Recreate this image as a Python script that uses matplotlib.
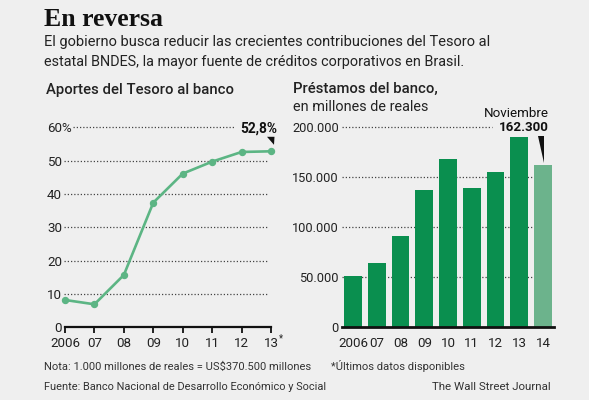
import matplotlib
matplotlib.use('Agg')
import matplotlib.pyplot as plt
from matplotlib import font_manager
from matplotlib.patches import Polygon
import matplotlib.transforms as mtransforms

# ---------------- data ----------------
years_left = ['2006', '07', '08', '09', '10', '11', '12', '13']
aportes = [8.2, 6.9, 15.7, 37.4, 46.1, 49.7, 52.6, 52.8]
left_ticks = [0, 10, 20, 30, 40, 50, 60]

years_right = ['2006', '07', '08', '09', '10', '11', '12', '13', '14']
prestamos = [51600, 64200, 91800, 137100, 168000, 139400, 155700, 190400, 162300]
right_ticks = [0, 50000, 100000, 150000, 200000]
right_tick_labels = ['0', '50.000', '100.000', '150.000', '200.000']

# ---------------- style ----------------
BG = '#efefef'
TXT = '#222222'
LINE = '#5cb584'
BAR = '#0a8f4f'
BAR_LAST = '#6cb38c'
GRID = '#444444'

names = {f.name for f in font_manager.fontManager.ttflist}
def pick(*cands):
    for c in cands:
        if c in names:
            return c
    return 'DejaVu Sans'
SANS = pick('Roboto', 'Open Sans', 'Lato', 'DejaVu Sans')
SERIF = pick('Liberation Serif', 'DejaVu Serif')

W, H = 589, 400
fig = plt.figure(figsize=(W / 100, H / 100), dpi=100)
fig.patch.set_facecolor(BG)
renderer = fig.canvas.get_renderer()

def ftext(x, y, s, width=None, size=10, ha='left', va='baseline', family=SANS, **kw):
    t = fig.text(x / W, 1 - y / H, s, fontsize=size, ha=ha, va=va,
                 family=family, color=kw.pop('color', TXT), **kw)
    if width:
        w = t.get_window_extent(renderer).width
        t.set_fontsize(size * width / w)
    return t

def add_axes_px(left, right, top, bottom):
    return fig.add_axes([left / W, 1 - bottom / H, (right - left) / W, (bottom - top) / H])

DOTS = (0, (1, 1.6))

# ---------------- header ----------------
ftext(44, 26, 'En reversa', width=119, size=16, family=SERIF, weight='bold', color='#111111')
ftext(44, 46, 'El gobierno busca reducir las crecientes contribuciones del Tesoro al',
      width=445, size=10)
ftext(44, 66, 'estatal BNDES, la mayor fuente de créditos corporativos en Brasil.',
      width=420, size=10)

# ---------------- left panel ----------------
ftext(46, 94, 'Aportes del Tesoro al banco', width=188, size=11, weight='medium')

L_LEFT, L_RIGHT, TOP, BOT = 65, 271, 127.3, 327.3
axl = add_axes_px(L_LEFT, L_RIGHT, TOP, BOT)
axl.set_facecolor('none')
n_l = len(aportes)
axl.set_xlim(0, n_l - 1)
axl.set_ylim(0, 60)
for s in ['top', 'right', 'left']:
    axl.spines[s].set_visible(False)
axl.spines['bottom'].set_linewidth(1.6)
axl.spines['bottom'].set_color('#111111')
axl.set_xticks(range(n_l))
axl.set_xticklabels(years_left)
axl.tick_params(axis='x', direction='out', length=4, width=1.3, color='#111111',
                pad=3, labelsize=9.6, labelcolor=TXT)
for lab in axl.get_xticklabels():
    lab.set_family(SANS)
axl.set_yticks(left_ticks)
axl.set_yticklabels([str(v) for v in left_ticks])
axl.tick_params(axis='y', length=0, pad=2.2, labelsize=9.6, labelcolor=TXT)
for lab in axl.get_yticklabels():
    lab.set_family(SANS)

def lx(px):
    return (px - L_LEFT) / (L_RIGHT - L_LEFT) * (n_l - 1)

for v in left_ticks[1:]:
    x0 = lx(73) if v == 60 else lx(64)
    x1 = lx(235) if v == 60 else lx(268)
    axl.plot([x0, x1], [v, v], ls=DOTS, lw=0.9, color=GRID, clip_on=False, zorder=1)

# "%" after 60
pct_y = axl.transData.transform((0, 60))[1]
fig.text(61.5 / W, pct_y / H, '%', fontsize=9.6, family=SANS, color=TXT, ha='left', va='center_baseline')

axl.plot(range(n_l), aportes, color=LINE, lw=1.9, marker='o', ms=4.3,
         clip_on=False, zorder=3)

# asterisk after 13
ftext(279, 341, '*', size=7)

# label 52,8%
ftext(277, 132.5, '52,8%', width=37, size=10, ha='right', weight='bold', color='#111111')
px, py = axl.transData.transform((n_l - 1, aportes[-1]))
tri = Polygon([(-4, 14.5), (3.5, 14.5), (3, 6.5)], closed=True, facecolor='#111111',
              edgecolor='none', transform=mtransforms.Affine2D().translate(px, py))
fig.patches.append(tri)

# ---------------- right panel ----------------
ftext(293, 93, 'Préstamos del banco,', width=144, size=11, weight='medium')
ftext(293, 110.7, 'en millones de reales', width=135, size=10)

R_LEFT, R_RIGHT = 341.7, 554.3
axr = add_axes_px(R_LEFT, R_RIGHT, TOP, BOT)
axr.set_facecolor('none')
n_r = len(prestamos)
axr.set_xlim(-0.476, n_r - 1 + 0.476)
axr.set_ylim(0, 200000)
for s in ['top', 'right', 'left']:
    axr.spines[s].set_visible(False)
axr.spines['bottom'].set_linewidth(2.0)
axr.spines['bottom'].set_color('#111111')
axr.spines['bottom'].set_zorder(5)
axr.set_xticks(range(n_r))
axr.set_xticklabels(years_right)
axr.tick_params(axis='x', length=0, pad=7, labelsize=9.6, labelcolor=TXT)
for lab in axr.get_xticklabels():
    lab.set_family(SANS)
axr.set_yticks(right_ticks)
axr.set_yticklabels(right_tick_labels)
axr.tick_params(axis='y', length=0, pad=2.0, labelsize=9.2, labelcolor=TXT)
for lab in axr.get_yticklabels():
    lab.set_family(SANS)

def rx(pxv):
    x0, x1 = axr.get_xlim()
    return x0 + (pxv - R_LEFT) / (R_RIGHT - R_LEFT) * (x1 - x0)

for v in right_ticks[1:]:
    xs = rx(342)
    xe = rx(492) if v == 200000 else rx(553)
    axr.plot([xs, xe], [v, v], ls=DOTS, lw=0.9, color=GRID, clip_on=False, zorder=1)

colors = [BAR] * (n_r - 1) + [BAR_LAST]
axr.bar(range(n_r), prestamos, width=0.74, color=colors, zorder=2)

ftext(549, 116.7, 'Noviembre', width=65, size=10, ha='right', color='#111111')
ftext(549, 130.7, '162.300', width=50, size=10, ha='right', weight='bold', color='#111111')
bx, by = axr.transData.transform((n_r - 1, prestamos[-1]))
tri2 = Polygon([(-4.5, 29), (0.8, 29), (0.8, 2)], closed=True, facecolor='#111111',
               edgecolor='none', transform=mtransforms.Affine2D().translate(bx, by))
fig.patches.append(tri2)

# ---------------- footer ----------------
ftext(44, 370, 'Nota: 1.000 millones de reales = US$370.500 millones', width=265, size=8.5, color='#333333')
ftext(331, 370, '*Últimos datos disponibles', width=133, size=8.5, color='#333333')
ftext(44, 390, 'Fuente: Banco Nacional de Desarrollo Económico y Social', width=280, size=8.5, color='#333333')
ftext(551, 390, 'The Wall Street Journal', width=117, size=8.5, ha='right', color='#333333')

fig.savefig('out.png', dpi=100, facecolor=BG)
